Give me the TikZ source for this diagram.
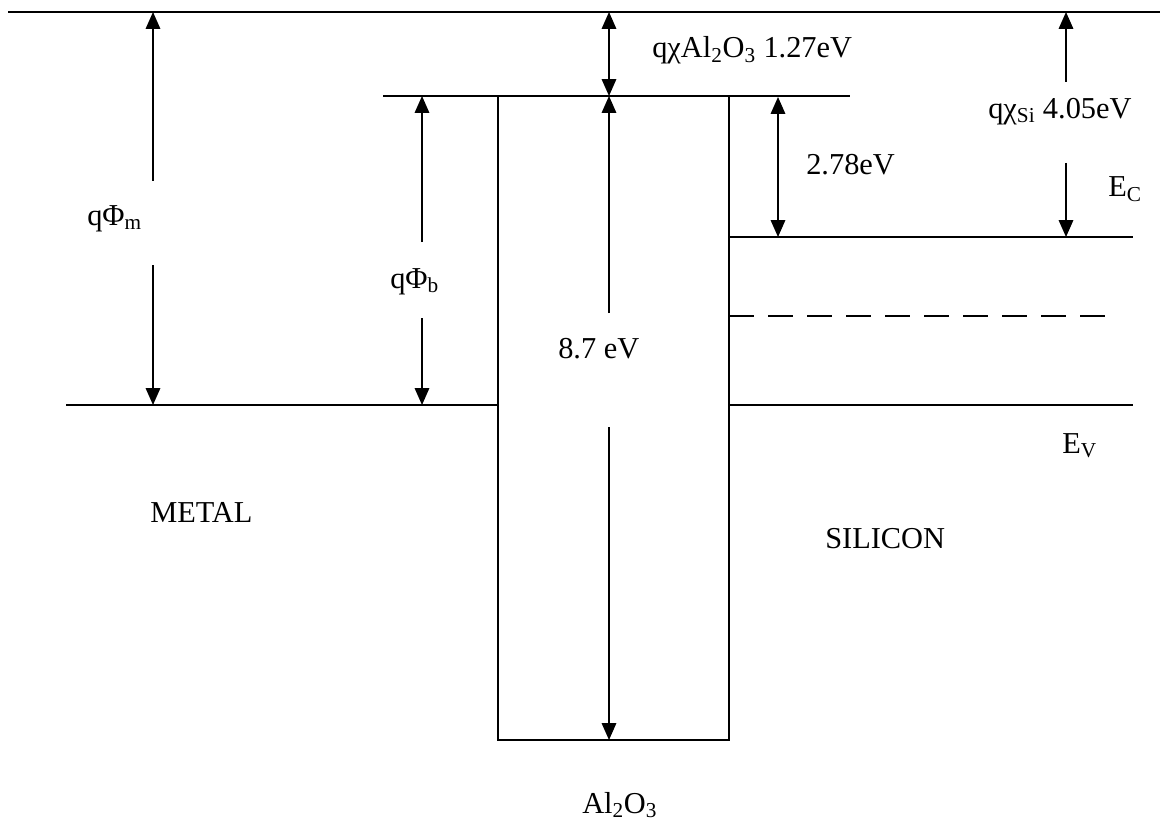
\documentclass[tikz,border=0pt]{standalone}
\usepackage{fontspec}
\setmainfont{Liberation Serif}
\usetikzlibrary{arrows.meta}

\begin{document}
\begin{tikzpicture}[x=0.025cm, y=-0.025cm,
    level/.style={line width=1.3pt},
    dimarrow/.style={line width=1.2pt, -{Triangle[length=0.42cm, width=0.36cm]}},
    dimboth/.style={line width=1.2pt, {Triangle[length=0.42cm, width=0.36cm]}-{Triangle[length=0.42cm, width=0.36cm]}},
    lbl/.style={font=\fontsize{21.6}{25}\selectfont, inner sep=0pt, anchor=base west}]
    \useasboundingbox (0,0) rectangle (1160,821);

    % Vacuum level
    \draw[level] (8,12) -- (1160,12);

    % Al2O3 barrier
    \draw[level] (498,96) rectangle (729,740);
    \draw[level] (383,96) -- (850,96);

    % Metal Fermi level
    \draw[level] (66,405) -- (498,405);

    % Silicon bands
    \draw[level] (729,237) -- (1133,237);
    \draw[level, dash pattern=on 0.625cm off 0.35cm] (729,316) -- (1114,316);
    \draw[level] (729,405) -- (1133,405);

    % Metal work function
    \draw[dimarrow] (153,181) -- (153,12);
    \draw[dimarrow] (153,265) -- (153,405);
    \node[lbl] (phim) at (87,225) {qΦ\textsubscript{m}};

    % Barrier height
    \draw[dimarrow] (422,242) -- (422,96);
    \draw[dimarrow] (422,318) -- (422,405);
    \node[lbl] (phib) at (390,288) {qΦ\textsubscript{b}};

    % Al2O3 affinity and band gap
    \draw[dimboth] (609,12) -- (609,96);
    \node[lbl] (chiox) at (652,58) {qχAl\textsubscript{2}O\textsubscript{3} 1.27eV};
    \draw[dimarrow] (609,313) -- (609,96);
    \draw[dimarrow] (609,427) -- (609,740);
    \node[lbl] (gapox) at (558,358) {8.7 eV};

    % Conduction band offset
    \draw[dimboth] (778,97) -- (778,237);
    \node[lbl] (offset) at (806,175) {2.78eV};

    % Silicon affinity
    \draw[dimarrow] (1066,82) -- (1066,12);
    \draw[dimarrow] (1066,163) -- (1066,237);
    \node[lbl] (chisi) at (988,118) {qχ\textsubscript{Si} 4.05eV};

    % Band edge labels
    \node[lbl] (ec) at (1108,197) {E\textsubscript{C}};
    \node[lbl] (ev) at (1062,453) {E\textsubscript{V}};

    % Region labels
    \node[lbl] (metal) at (150,522) {METAL};
    \node[lbl] (silicon) at (825,548) {SILICON};
    \node[lbl] (oxide) at (582,813) {Al\textsubscript{2}O\textsubscript{3}};
\end{tikzpicture}
\end{document}
